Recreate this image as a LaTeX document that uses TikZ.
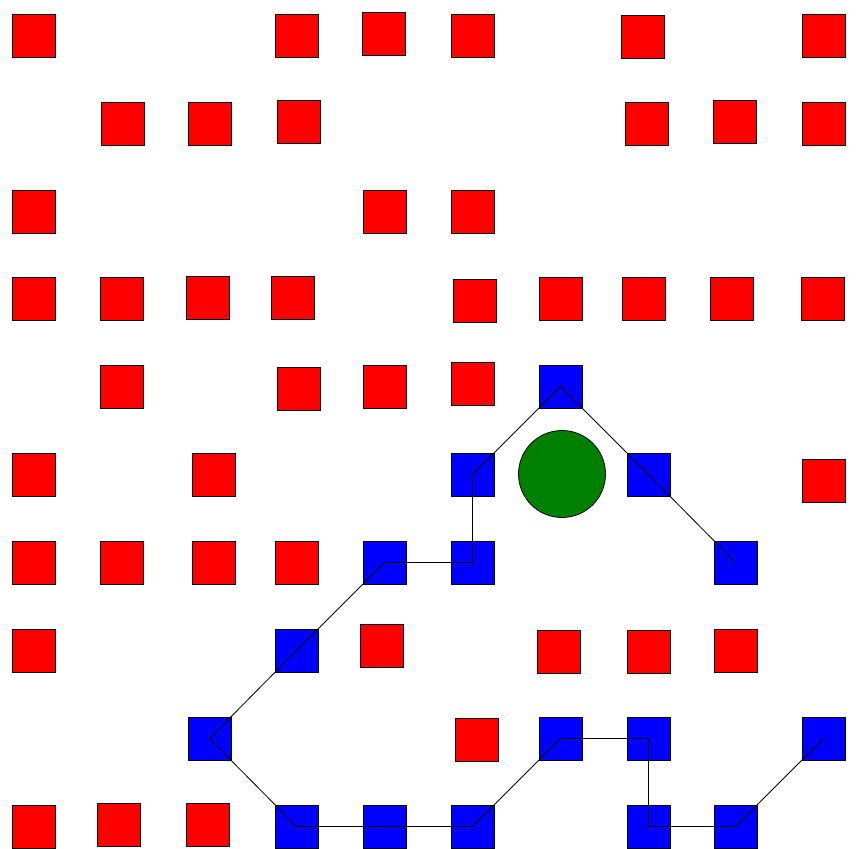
\documentclass[tikz,border=0pt]{standalone}
\usepackage{tikz}
\definecolor{cellred}{RGB}{255,0,0}
\definecolor{cellblue}{RGB}{0,0,255}
\definecolor{goalgreen}{RGB}{0,128,0}
\tikzset{
  sq/.style={rectangle, draw=black, line width=0.8pt, minimum width=43pt, minimum height=43pt, inner sep=0pt, outer sep=0pt},
  rsq/.style={sq, fill=cellred},
  bsq/.style={sq, fill=cellblue},
  goal/.style={circle, draw=black, line width=0.8pt, fill=goalgreen, minimum size=87pt, inner sep=0pt},
  route/.style={draw=black, line width=0.8pt}
}
\begin{document}
\begin{tikzpicture}[x=1pt, y=-1pt]
\useasboundingbox (0,0) rectangle (866,848);
% red squares
\foreach \px/\py [count=\i] in {
  33.5/35.5, 296.5/35.5, 383.5/34, 472.5/35.5, 642.5/36.8, 823.5/35.5,
  122.5/123.5, 209.5/123.5, 298.5/121.5, 646.5/123.5, 734.5/121.5, 823.5/123.5,
  33.5/211.5, 384.5/211.5, 472.5/211.5,
  33.5/298.5, 121.5/298.5, 207.5/297.5, 292.5/297.5, 474.5/300.5, 560.5/298.5, 643.5/298.5, 731.5/298.5, 822.5/298.5,
  121.5/386.5, 298.5/388.5, 384.5/386.5, 472.5/383.5,
  33.5/474.5, 213.5/474.5, 823.5/480.5,
  33.5/562.5, 121.5/562.5, 213.5/562.5, 296.5/562.5,
  33.5/650.5, 381.5/646, 558.5/651.5, 648.5/651.5, 735.5/650.5,
  476.5/739.5,
  33.5/826.5, 118.5/824.5, 207.5/824.5}
  { \node[rsq] (r\i) at (\px,\py) {}; }
% blue squares
\node[bsq] (b1) at (560.5,386.5) {};
\node[bsq] (b2) at (472.5,474.5) {};
\node[bsq] (b3) at (648.5,474.5) {};
\node[bsq] (b4) at (384.5,562.5) {};
\node[bsq] (b5) at (472.5,562.5) {};
\node[bsq] (b6) at (735.5,562.5) {};
\node[bsq] (b7) at (296.5,650.5) {};
\node[bsq] (b8) at (209.5,738.5) {};
\node[bsq] (b9) at (560.5,738.5) {};
\node[bsq] (b10) at (648.5,738.5) {};
\node[bsq] (b11) at (823.5,738.5) {};
\node[bsq] (b12) at (296.5,826.5) {};
\node[bsq] (b13) at (384.5,826.5) {};
\node[bsq] (b14) at (472.5,826.5) {};
\node[bsq] (b15) at (648.5,826.5) {};
\node[bsq] (b16) at (735.5,826.5) {};
% goal
\node[goal] (g) at (562,474) {};
% route
\draw[route] (b6.center) -- (b3.center) -- (b1.center) -- (b2.center) -- (b5.center) -- (b4.center) -- (b7.center) -- (b8.center) -- (b12.center) -- (b13.center) -- (b14.center) -- (b9.center) -- (b10.center) -- (b15.center) -- (b16.center) -- (b11.center);
\end{tikzpicture}
\end{document}
